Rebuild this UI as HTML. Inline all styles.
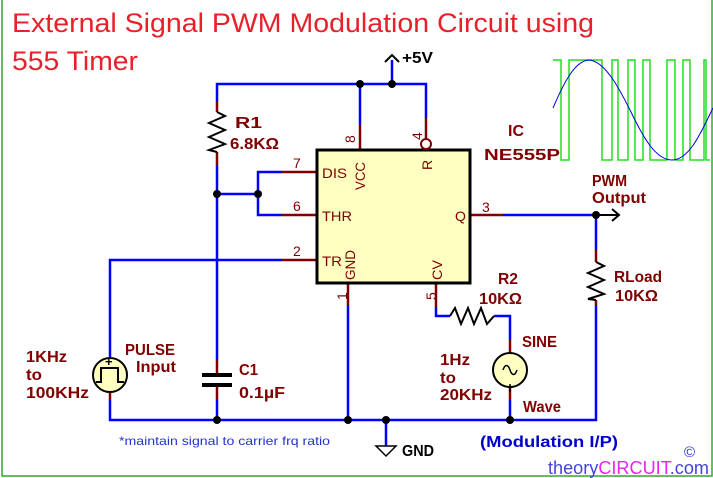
<!DOCTYPE html>
<html><head><meta charset="utf-8"><style>
html,body{margin:0;padding:0;background:#fff;}
svg{display:block;}
.l{font-family:"Liberation Sans",sans-serif;font-weight:bold;font-size:16px;fill:#800000;}
.p{font-family:"Liberation Sans",sans-serif;font-size:14px;fill:#800000;}
</style></head><body>
<svg width="713" height="478" viewBox="0 0 713 478" xmlns="http://www.w3.org/2000/svg">
<rect x="2" y="-5" width="710" height="481" fill="none" stroke="#2eaa2e" stroke-width="1.5"/>
<text x="12" y="32" font-family="Liberation Sans,sans-serif" font-size="27" fill="#e8202a" textLength="582" lengthAdjust="spacingAndGlyphs">External Signal PWM Modulation Circuit using</text>
<text x="12" y="70" font-family="Liberation Sans,sans-serif" font-size="27" fill="#e8202a" textLength="126" lengthAdjust="spacingAndGlyphs">555 Timer</text>

<polyline fill="none" stroke="#22dd22" stroke-width="1.5" points="553,60 561,60 561,160 569,160 569,60 602,60 602,160 612,160 612,60 618,60 618,160 628,160 628,60 635,60 635,160 643,160 643,60 650,60 650,160 667,160 667,60 675,60 675,160 683,160 683,60 690,60 690,160 704,160 704,60 706,60 706,160 710,160"/>
<path d="M553,108 C565,80 575,62 588,60 C605,60 620,90 630,110 C642,135 655,160 672,160 C690,160 702,130 713,108" fill="none" stroke="#0000dd" stroke-width="1"/>

<g stroke="#0000ff" stroke-width="2.5" fill="none">
<polyline points="217,102 217,84 426,84 426,118"/>
<line x1="360" y1="84" x2="360" y2="125"/>
<line x1="392" y1="84" x2="392" y2="60"/>
<polyline points="217,165 217,360"/>
<line x1="217" y1="400" x2="217" y2="420"/>
<line x1="217" y1="194" x2="258" y2="194"/>
<polyline points="282,172 258,172 258,215 282,215"/>
<polyline points="282,260 110,260 110,358"/>
<polyline points="110,400 110,420 596,420 596,305"/>
<line x1="348" y1="305" x2="348" y2="420"/>
<line x1="386" y1="420" x2="386" y2="446"/>
<polyline points="436,307 436,316 450,316"/>
<polyline points="494,316 510,316 510,340"/>
<line x1="510" y1="400" x2="510" y2="420"/>
<line x1="503" y1="215" x2="596" y2="215"/>
<line x1="596" y1="215" x2="596" y2="250"/>
</g>
<g stroke="#800000" stroke-width="2.5" fill="none">
<line x1="217" y1="102" x2="217" y2="112"/>
<line x1="217" y1="152" x2="217" y2="165"/>
<line x1="360" y1="125" x2="360" y2="150"/>
<line x1="426" y1="118" x2="426" y2="139"/>
<line x1="282" y1="172" x2="317" y2="172"/>
<line x1="282" y1="215" x2="317" y2="215"/>
<line x1="282" y1="260" x2="317" y2="260"/>
<line x1="470" y1="215" x2="503" y2="215"/>
<line x1="348" y1="283" x2="348" y2="305"/>
<line x1="436" y1="283" x2="436" y2="307"/>
<line x1="217" y1="360" x2="217" y2="375"/>
<line x1="217" y1="385" x2="217" y2="400"/>
<line x1="110" y1="358" x2="110" y2="360"/>
<line x1="110" y1="390" x2="110" y2="400"/>
<line x1="510" y1="340" x2="510" y2="355"/>
<line x1="510" y1="385" x2="510" y2="400"/>
<line x1="596" y1="250" x2="596" y2="262"/>
<line x1="596" y1="300" x2="596" y2="305"/>
</g>
<g stroke="#000" stroke-width="2" fill="none">
<polyline points="217,112 225,116 209,123 225,130 209,137 225,144 209,150 217,152"/>
<polyline points="596,262 604,266 588,273 604,280 588,287 604,294 588,299 596,300"/>
<polyline points="450,316 455,308 461,324 468,308 474,324 481,308 487,324 494,316"/>
<line x1="202" y1="375" x2="232" y2="375" stroke-width="4"/>
<line x1="202" y1="385" x2="232" y2="385" stroke-width="4"/>
<polyline points="385,62 392,55 399,62"/>
<polyline points="612,209 619,215 612,221"/>
<line x1="596" y1="215" x2="618" y2="215"/>
<polygon points="376,446 396,446 386,456" stroke-width="1.5"/>
</g>
<rect x="317" y="150" width="153" height="133" fill="#ffffc2" stroke="#000" stroke-width="3"/>
<circle cx="426" cy="144" r="5" fill="#fff" stroke="#800000" stroke-width="2"/>
<circle cx="110" cy="375" r="17" fill="#ffffc2" stroke="#000" stroke-width="2"/>
<polyline points="96,382 101,382 101,368 118,368 118,382 124,382" fill="none" stroke="#000" stroke-width="2"/>
<text x="105" y="366" font-family="Liberation Sans,sans-serif" font-weight="bold" font-size="13">+</text>
<circle cx="510" cy="370" r="17" fill="#ffffc2" stroke="#000" stroke-width="2"/>
<path d="M503,370 C505,364 508,364 510,370 C512,376 515,376 517,370" fill="none" stroke="#000" stroke-width="1.5"/>
<line x1="510" y1="384" x2="510" y2="392" stroke="#000" stroke-width="1.5"/>
<g fill="#000">
<circle cx="360" cy="84" r="4"/><circle cx="392" cy="84" r="4"/>
<circle cx="217" cy="194" r="4"/><circle cx="258" cy="194" r="4"/>
<circle cx="596" cy="215" r="4"/>
<circle cx="217" cy="420" r="4"/><circle cx="348" cy="420" r="4"/>
<circle cx="386" cy="420" r="4"/><circle cx="510" cy="420" r="4"/>
</g>

<text class="p" x="322" y="178" textLength="25" lengthAdjust="spacingAndGlyphs">DIS</text>
<text class="p" x="322" y="221" textLength="30" lengthAdjust="spacingAndGlyphs">THR</text>
<text class="p" x="322" y="266" textLength="20" lengthAdjust="spacingAndGlyphs">TR</text>
<text class="p" x="455" y="221">Q</text>
<text class="p" transform="translate(365,190) rotate(-90)" textLength="28" lengthAdjust="spacingAndGlyphs">VCC</text>
<text class="p" transform="translate(432,170) rotate(-90)">R</text>
<text class="p" transform="translate(355,280) rotate(-90)" textLength="30" lengthAdjust="spacingAndGlyphs">GND</text>
<text class="p" transform="translate(442,280) rotate(-90)" textLength="20" lengthAdjust="spacingAndGlyphs">CV</text>
<text class="p" x="293" y="168">7</text>
<text class="p" x="293" y="211">6</text>
<text class="p" x="293" y="256">2</text>
<text class="p" x="482" y="212">3</text>
<text class="p" transform="translate(355,143) rotate(-90)">8</text>
<text class="p" transform="translate(422,140) rotate(-90)">4</text>
<text class="p" transform="translate(347,300) rotate(-90)">1</text>
<text class="p" transform="translate(436,300) rotate(-90)">5</text>

<text class="l" x="402" y="63" style="fill:#000" textLength="31" lengthAdjust="spacingAndGlyphs">+5V</text>
<text class="l" x="235" y="128" textLength="27" lengthAdjust="spacingAndGlyphs">R1</text>
<text class="l" x="230" y="149" textLength="49" lengthAdjust="spacingAndGlyphs">6.8KΩ</text>
<text class="l" x="508" y="136" textLength="16" lengthAdjust="spacingAndGlyphs">IC</text>
<text class="l" x="484" y="160" textLength="76" lengthAdjust="spacingAndGlyphs">NE555P</text>
<text class="l" x="592" y="186" textLength="35" lengthAdjust="spacingAndGlyphs">PWM</text>
<text class="l" x="592" y="203" textLength="54" lengthAdjust="spacingAndGlyphs">Output</text>
<text class="l" x="614" y="282" textLength="48" lengthAdjust="spacingAndGlyphs">RLoad</text>
<text class="l" x="615" y="301" textLength="43" lengthAdjust="spacingAndGlyphs">10KΩ</text>
<text class="l" x="498" y="284" textLength="20" lengthAdjust="spacingAndGlyphs">R2</text>
<text class="l" x="479" y="304" textLength="43" lengthAdjust="spacingAndGlyphs">10KΩ</text>
<text class="l" x="522" y="347" textLength="35" lengthAdjust="spacingAndGlyphs">SINE</text>
<text class="l" x="440" y="365" textLength="30" lengthAdjust="spacingAndGlyphs">1Hz</text>
<text class="l" x="440" y="383" textLength="16" lengthAdjust="spacingAndGlyphs">to</text>
<text class="l" x="440" y="400" textLength="52" lengthAdjust="spacingAndGlyphs">20KHz</text>
<text class="l" x="523" y="412" textLength="38" lengthAdjust="spacingAndGlyphs">Wave</text>
<text class="l" x="26" y="362" textLength="41" lengthAdjust="spacingAndGlyphs">1KHz</text>
<text class="l" x="26" y="380" textLength="16" lengthAdjust="spacingAndGlyphs">to</text>
<text class="l" x="26" y="398" textLength="63" lengthAdjust="spacingAndGlyphs">100KHz</text>
<text class="l" x="125" y="355" textLength="50" lengthAdjust="spacingAndGlyphs">PULSE</text>
<text class="l" x="136" y="372" textLength="40" lengthAdjust="spacingAndGlyphs">Input</text>
<text class="l" x="239" y="375" textLength="19" lengthAdjust="spacingAndGlyphs">C1</text>
<text class="l" x="239" y="398" textLength="46" lengthAdjust="spacingAndGlyphs">0.1µF</text>
<text class="l" x="402" y="456" style="fill:#000" textLength="32" lengthAdjust="spacingAndGlyphs">GND</text>
<text x="119" y="445" font-family="Liberation Sans,sans-serif" font-size="12" fill="#2233cc" textLength="211" lengthAdjust="spacingAndGlyphs">*maintain signal to carrier frq ratio</text>
<text x="480" y="447" font-family="Liberation Sans,sans-serif" font-weight="bold" font-size="16" fill="#0000cc" textLength="138" lengthAdjust="spacingAndGlyphs">(Modulation I/P)</text>
<text x="684" y="457" font-family="Liberation Sans,sans-serif" font-size="15" fill="#2233cc">©</text>
<text x="548" y="474" font-family="Liberation Sans,sans-serif" font-size="18" fill="#4444dd" textLength="161" lengthAdjust="spacingAndGlyphs">theory<tspan fill="#ee22ee">CIRCUIT</tspan>.com</text>
</svg>
</body></html>
